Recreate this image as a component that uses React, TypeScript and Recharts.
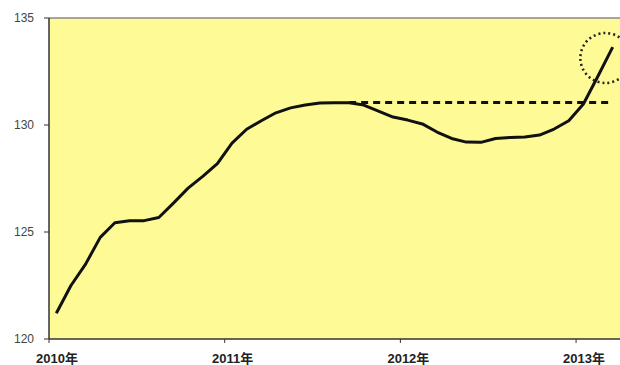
import { LineChart, Line, XAxis, YAxis, CartesianGrid, ReferenceLine, ReferenceDot } from 'recharts'

// monthly index, Jan 2010 .. Mar 2013
const values = [
  121.2, 122.5, 123.5, 124.75, 125.43, 125.53, 125.53, 125.68, 126.35, 127.05, 127.6, 128.2,
  129.15, 129.8, 130.2, 130.57, 130.8, 130.93, 131.03, 131.04, 131.04, 130.93, 130.65, 130.37,
  130.23, 130.05, 129.67, 129.37, 129.2, 129.19, 129.37, 129.42, 129.44, 129.53, 129.81, 130.2,
  130.98, 132.29, 133.64,
]

// level of the peak carried forward as a dashed line
const peakLevel = 131.05
const peakFrom = 20

const yearTicks = [0, 12, 24, 36]
const yearLabels = ['2010年', '2011年', '2012年', '2013年']
const yTicks = [120, 125, 130, 135]

const data = values.map((v, i) => ({
  t: i + 0.5,
  v,
  peak: i >= peakFrom ? peakLevel : null,
}))

const FONT = '"Liberation Sans", Arial, "Noto Sans CJK JP", sans-serif'

function YearTick(props: any) {
  const { x, y, payload } = props
  const idx = yearTicks.indexOf(payload.value)
  return (
    <text x={x + 8} y={y + 18} textAnchor="middle" fontSize={13} fontWeight="bold" fill="#222" fontFamily={FONT}>
      {yearLabels[idx]}
    </text>
  )
}

export default function App() {
  return (
    <div style={{ position: 'absolute', left: 0, top: 0, width: 620, height: 365, background: '#fff' }}>
      <LineChart width={620} height={365} data={data} margin={{ top: 18, right: 0, left: 0, bottom: 0 }}>
        <CartesianGrid fill="#fefa96" stroke="none" horizontal={false} vertical={false} />
        <XAxis
          dataKey="t"
          type="number"
          domain={[0, 39]}
          ticks={yearTicks}
          allowDataOverflow
          height={26}
          tick={<YearTick />}
          tickSize={4}
          axisLine={{ stroke: '#333', strokeWidth: 1.5 }}
          tickLine={{ stroke: '#333' }}
        />
        <YAxis
          domain={[120, 135]}
          ticks={yTicks}
          width={49}
          tickSize={5}
          tickMargin={10}
          tick={{ fontSize: 12, fill: '#444', fontFamily: FONT }}
          axisLine={{ stroke: '#333', strokeWidth: 1.5 }}
          tickLine={{ stroke: '#333' }}
        />
        <ReferenceLine y={135} stroke="#888" strokeWidth={1.5} />
        <Line
          dataKey="peak"
          stroke="#111"
          strokeWidth={3}
          strokeDasharray="7 5"
          dot={false}
          connectNulls={false}
          isAnimationActive={false}
        />
        <Line
          dataKey="v"
          type="linear"
          stroke="#111"
          strokeWidth={3}
          strokeLinejoin="round"
          dot={false}
          isAnimationActive={false}
        />
        <ReferenceDot
          x={38}
          y={133.13}
          r={25}
          fill="none"
          stroke="#222"
          strokeWidth={2.5}
          strokeDasharray="2 3"
        />
      </LineChart>
    </div>
  )
}
